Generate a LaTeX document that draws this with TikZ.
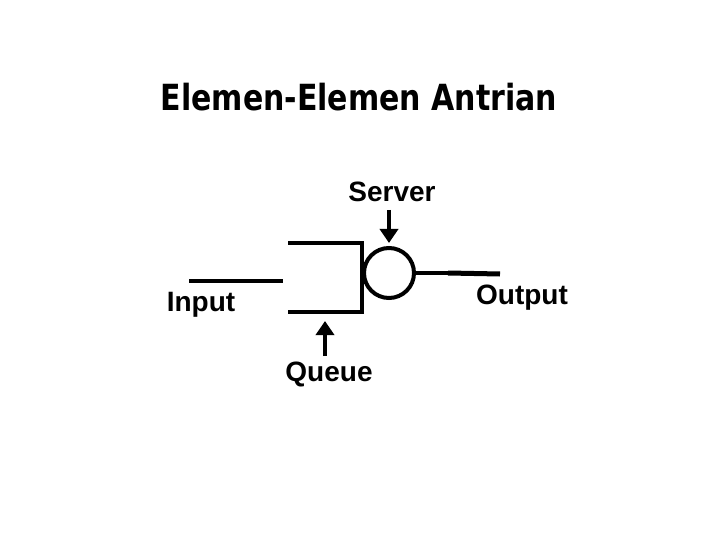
\documentclass[tikz,border=0pt]{standalone}
\usepackage{fontspec}
\setmainfont{Liberation Sans}
\newfontfamily\titlefont{DejaVu Sans}
\usetikzlibrary{arrows.meta}
\begin{document}
\begin{tikzpicture}[x=1pt,y=-1pt,
  thick line/.style={line width=4.5pt},
  lbl/.style={font=\fontsize{28}{30}\selectfont\bfseries, inner sep=0pt},
  pointer/.style={line width=4pt, -{Triangle[length=14pt,width=18pt]}}]
\useasboundingbox (0,0) rectangle (720,540);
\node[font=\titlefont\fontsize{30}{34}\selectfont\bfseries, inner sep=0pt, yscale=1.2] (title) at (359,97) {Elemen-Elemen Antrian};
% input line
\coordinate (inA) at (189,281);
\coordinate (inB) at (283,281);
\draw[thick line] (inA) -- (inB);
% queue
\coordinate (qTL) at (288,243);
\coordinate (qTR) at (362,243);
\coordinate (qBR) at (362,312);
\coordinate (qBL) at (288,312);
\draw[thick line, line join=miter] (qTL) -- (qTR) -- (qBR) -- (qBL);
% server
\node[circle, draw, line width=4pt, minimum size=50pt, inner sep=0pt] (srv) at (389,273) {};
\coordinate (outM) at (448,273);
\coordinate (outB) at (500,274);
\draw[line width=3.5pt] (srv.east) -- (outM);
\draw[line width=5pt] (outM) -- (outB);
% labels
\node[lbl] (server) at (392,192) {Server};
\node[lbl] (input) at (201,305) {Input};
\node[lbl] (output) at (522,298) {Output};
\node[lbl] (queue) at (329,374) {Queue};
% arrows
\coordinate (sArrTail) at (389,210);
\coordinate (sArrTip) at (389,243);
\draw[pointer] (sArrTail) -- (sArrTip);
\coordinate (qArrTail) at (325,356);
\coordinate (qArrTip) at (325,321);
\draw[pointer] (qArrTail) -- (qArrTip);
\end{tikzpicture}
\end{document}
